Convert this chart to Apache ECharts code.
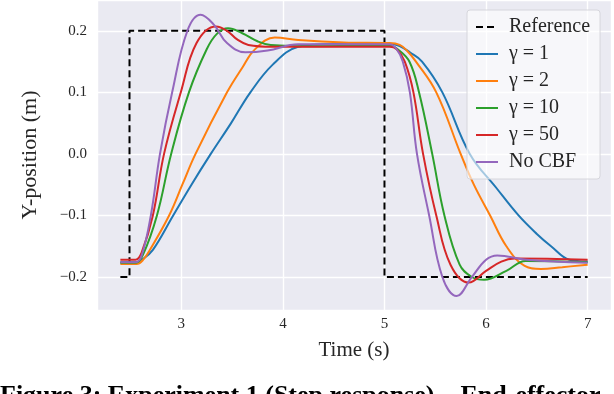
<!DOCTYPE html>
<html>
<head>
<meta charset="utf-8">
<script src="https://cdn.jsdelivr.net/npm/echarts@6/dist/echarts.min.js"></script>
<style>
  html, body { margin: 0; padding: 0; background: #fff; }
  #chart { width: 614px; height: 394px; }
</style>
</head>
<body>
<div id="chart"></div>
<script>
// step reference
var refTime = [2.4, 2.49, 2.49, 5.0, 5.0, 7.0];
var refPos = [-0.2, -0.2, 0.2, 0.2, -0.2, -0.2];

// gamma = 1
var timeG1 = [2.4, 2.55, 2.62, 2.72, 2.92, 3.1, 3.29, 3.49, 3.68, 3.9, 4.15, 4.4, 4.8, 5.05, 5.15, 5.25, 5.37, 5.57, 5.84, 6.1, 6.32, 6.5, 6.64, 6.82, 7.0];
var posG1 = [-0.176, -0.176, -0.171, -0.156, -0.1, -0.05, 0.0, 0.05, 0.1, 0.145, 0.174, 0.178, 0.179, 0.179, 0.175, 0.165, 0.15, 0.1, 0.0, -0.055, -0.1, -0.13, -0.15, -0.172, -0.175];

// gamma = 2
var timeG2 = [2.4, 2.56, 2.62, 2.69, 2.88, 3.01, 3.14, 3.45, 3.6, 3.72, 3.92, 4.15, 4.6, 5.05, 5.15, 5.22, 5.31, 5.51, 5.75, 5.88, 6.04, 6.2, 6.38, 6.54, 6.75, 7.0];
var posG2 = [-0.179, -0.179, -0.173, -0.156, -0.1, -0.05, 0.0, 0.1, 0.14, 0.169, 0.189, 0.185, 0.181, 0.18, 0.177, 0.168, 0.15, 0.1, 0.0, -0.05, -0.1, -0.15, -0.182, -0.187, -0.184, -0.18];

// gamma = 10
var timeG10 = [2.4, 2.55, 2.62, 2.76, 2.9, 3.075, 3.25, 3.35, 3.46, 3.6, 3.75, 3.88, 4.3, 5.05, 5.13, 5.245, 5.34, 5.47, 5.59, 5.74, 5.86, 5.98, 6.2, 6.39, 7.0];
var posG10 = [-0.177, -0.177, -0.165, -0.1, 0.0, 0.1, 0.17, 0.195, 0.204, 0.196, 0.183, 0.177, 0.175, 0.176, 0.17, 0.15, 0.1, 0.0, -0.1, -0.18, -0.2, -0.2045, -0.19, -0.174, -0.176];

// gamma = 50
var timeG50 = [2.4, 2.55, 2.61, 2.72, 2.83, 2.995, 3.15, 3.34, 3.45, 3.55, 3.66, 3.9, 5.05, 5.12, 5.2, 5.285, 5.38, 5.51, 5.65, 5.83, 6.0, 6.15, 6.28, 7.0];
var posG50 = [-0.172, -0.172, -0.16, -0.1, 0.0, 0.1, 0.18, 0.207, 0.2, 0.186, 0.177, 0.174, 0.174, 0.17, 0.15, 0.1, 0.0, -0.1, -0.18, -0.209, -0.19, -0.175, -0.17, -0.172];

// no CBF
var timeNoCbf = [2.4, 2.55, 2.61, 2.7, 2.79, 2.91, 3.06, 3.19, 3.32, 3.45, 3.63, 3.85, 4.15, 5.05, 5.12, 5.18, 5.25, 5.32, 5.44, 5.57, 5.71, 5.86, 6.0, 6.11, 6.4, 7.0];
var posNoCbf = [-0.176, -0.176, -0.165, -0.1, 0.0, 0.1, 0.2, 0.226, 0.21, 0.18, 0.165, 0.168, 0.178, 0.178, 0.17, 0.15, 0.1, 0.0, -0.1, -0.2, -0.231, -0.2, -0.172, -0.165, -0.172, -0.177];

var SERIF = '"Liberation Serif", "DejaVu Serif", serif';
var TXT = '#262626';

function pairs(ts, ys) {
  return ts.map(function (t, i) { return [t, ys[i]]; });
}

function curve(name, color, ts, ys) {
  return {
    name: name,
    type: 'line',
    data: pairs(ts, ys),
    symbol: 'none',
    smooth: 0.4,
    lineStyle: { color: color, width: 2 },
    itemStyle: { color: color }
  };
}

function onTick(v) {
  return Math.abs(v * 10 - Math.round(v * 10)) < 1e-6;
}

var myChart = echarts.init(document.getElementById('chart'));

myChart.setOption({
  animation: false,
  backgroundColor: '#fff',
  grid: {
    left: 97,
    right: 1,
    top: 0,
    bottom: 84,
    show: true,
    backgroundColor: '#EAEAF2',
    borderWidth: 0
  },
  legend: {
    orient: 'vertical',
    left: 467,
    top: 10,
    padding: [7, 10, 7, 8],
    itemWidth: 22,
    itemHeight: 14,
    itemGap: 7,
    itemStyle: { opacity: 0 },
    backgroundColor: 'rgba(255,255,255,0.6)',
    borderColor: '#d6d6dc',
    borderWidth: 1,
    borderRadius: 3,
    textStyle: { fontFamily: SERIF, fontSize: 20, color: TXT, padding: [0, 0, 0, 6] },
    data: ['Reference', 'γ = 1', 'γ = 2', 'γ = 10', 'γ = 50', 'No CBF']
  },
  xAxis: {
    type: 'value',
    min: 2.17,
    max: 7.23,
    name: 'Time (s)',
    nameLocation: 'middle',
    nameGap: 30,
    nameTextStyle: { fontFamily: SERIF, fontSize: 21, color: TXT },
    axisLine: { show: false },
    axisTick: { show: false },
    axisLabel: {
      fontFamily: SERIF,
      fontSize: 15,
      color: TXT,
      margin: 7,
      formatter: function (v) {
        return Math.abs(v - Math.round(v)) < 1e-6 ? String(Math.round(v)) : '';
      }
    },
    splitLine: { lineStyle: { color: '#fff', width: 1.4 } }
  },
  yAxis: {
    type: 'value',
    min: -0.2536,
    max: 0.25,
    name: 'Y-position (m)',
    nameLocation: 'middle',
    nameGap: 56,
    nameTextStyle: { fontFamily: SERIF, fontSize: 22, color: TXT },
    axisLine: { show: false },
    axisTick: { show: false },
    axisLabel: {
      fontFamily: SERIF,
      fontSize: 15,
      color: TXT,
      margin: 10,
      formatter: function (v) {
        if (!onTick(v)) return '';
        var s = Math.abs(v).toFixed(1);
        return v < -1e-9 ? '\u2212' + s : s;
      }
    },
    splitLine: { lineStyle: { color: '#fff', width: 1.4 } }
  },
  graphic: [
    {
      type: 'text',
      left: 0,
      top: 383,
      style: {
        text: 'Figure 3: Experiment 1 (Step response) \u2013 End-effector',
        fontFamily: SERIF,
        fontSize: 26,
        fontWeight: 'bold',
        fill: '#000'
      }
    }
  ],
  series: [
    {
      name: 'Reference',
      type: 'line',
      data: pairs(refTime, refPos),
      symbol: 'none',
      lineStyle: { color: '#000', width: 2, type: [7, 4] },
      itemStyle: { color: '#000' }
    },
    curve('γ = 1', '#1f77b4', timeG1, posG1),
    curve('γ = 2', '#ff7f0e', timeG2, posG2),
    curve('γ = 10', '#2ca02c', timeG10, posG10),
    curve('γ = 50', '#d62728', timeG50, posG50),
    curve('No CBF', '#9467bd', timeNoCbf, posNoCbf)
  ]
});
</script>
</body>
</html>
